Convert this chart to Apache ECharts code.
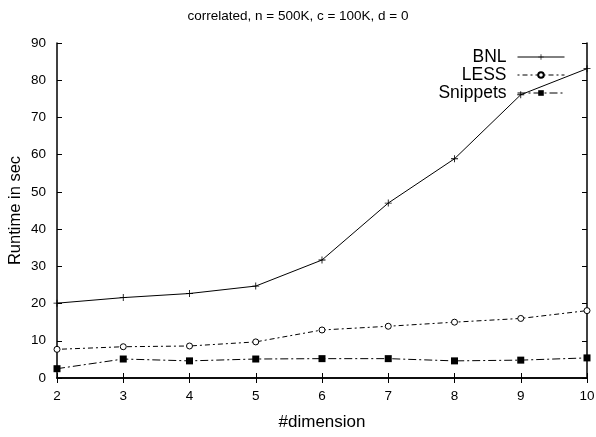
<!DOCTYPE html>
<html>
<head>
<meta charset="utf-8">
<script src="https://cdn.jsdelivr.net/npm/echarts@6/dist/echarts.min.js"></script>
<style>
  html, body { margin: 0; padding: 0; background: #fff; }
  #chart { width: 596px; height: 437px; }
</style>
</head>
<body>
<div id="chart"></div>
<script>
// 数据
const dims = [2, 3, 4, 5, 6, 7, 8, 9, 10];
const bnl = [20.1, 21.6, 22.7, 24.7, 31.7, 47.0, 58.9, 76.1, 83.1];
const less = [7.7, 8.4, 8.6, 9.7, 12.9, 13.9, 15.0, 16.0, 18.1];
const snippets = [2.5, 5.1, 4.6, 5.1, 5.2, 5.2, 4.6, 4.8, 5.4];

const font = '"Liberation Sans", Arial, sans-serif';
const plus = 'path://M4.4,0h1.2v4.4h4.4v1.2h-4.4v4.4h-1.2v-4.4h-4.4v-1.2h4.4z';

function pairs(arr) {
    return dims.map((d, i) => [d, arr[i]]);
}

const chart = echarts.init(document.getElementById('chart'));

const axisBase = {
    axisLine: { lineStyle: { color: '#000', width: 1.5 } },
    axisTick: { inside: true, length: 5, lineStyle: { color: '#000' } },
    splitLine: { show: false }
};

chart.setOption({
    backgroundColor: '#fff',
    animation: false,
    title: {
        text: 'correlated, n = 500K, c = 100K, d = 0',
        left: 'center',
        top: 4,
        textStyle: { fontFamily: font, fontSize: 13.5, fontWeight: 'normal', color: '#000' }
    },
    legend: {
        orient: 'vertical',
        right: 26,
        top: 43,
        align: 'right',
        itemWidth: 47,
        itemHeight: 7,
        itemGap: 0,
        lineStyle: { width: 1 },
        textStyle: { fontFamily: font, fontSize: 17.5, lineHeight: 18, color: '#000', padding: [0, 6, 0, 0] },
        data: ['BNL', 'LESS', 'Snippets']
    },
    grid: { left: 57, right: 9, top: 43, bottom: 59, outerBoundsMode: 'none', containLabel: false },
    xAxis: [
        Object.assign({}, axisBase, {
            type: 'value', min: 2, max: 10, interval: 1,
            name: '#dimension', nameLocation: 'middle', nameGap: 36, nameMoveOverlap: false,
            nameTextStyle: { fontFamily: font, fontSize: 17, color: '#000' },
            axisLabel: { fontFamily: font, fontSize: 13.5, color: '#000', margin: 11 }
        }),
        Object.assign({}, axisBase, {
            type: 'value', min: 2, max: 10, interval: 1, position: 'top',
            axisLabel: { show: false }
        })
    ],
    yAxis: [
        Object.assign({}, axisBase, {
            type: 'value', min: 0, max: 90, interval: 10,
            name: 'Runtime in sec', nameLocation: 'middle', nameGap: 33, nameMoveOverlap: false,
            nameTextStyle: { fontFamily: font, fontSize: 16.5, color: '#000' },
            axisLabel: { fontFamily: font, fontSize: 13.5, color: '#000', margin: 11 }
        }),
        Object.assign({}, axisBase, {
            type: 'value', min: 0, max: 90, interval: 10, position: 'right',
            axisLabel: { show: false }
        })
    ],
    series: [
        {
            name: 'BNL', type: 'line', data: pairs(bnl),
            symbol: plus, symbolSize: 7,
            lineStyle: { color: '#000', width: 1 },
            itemStyle: { color: '#000' }
        },
        {
            name: 'LESS', type: 'line', data: pairs(less),
            symbol: 'circle', symbolSize: 6,
            lineStyle: { color: '#000', width: 1, type: [2, 3, 5, 3] },
            itemStyle: { color: '#fff', borderColor: '#000', borderWidth: 1 }
        },
        {
            name: 'Snippets', type: 'line', data: pairs(snippets),
            symbol: 'rect', symbolSize: 7,
            lineStyle: { color: '#000', width: 1, type: [8, 3, 2, 3] },
            itemStyle: { color: '#000' }
        }
    ]
});
</script>
</body>
</html>
